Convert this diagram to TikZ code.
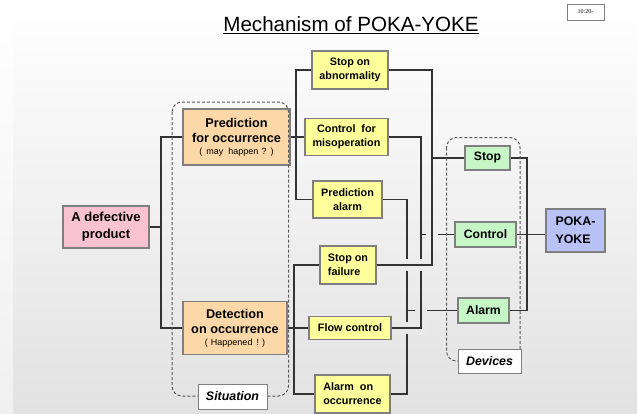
\documentclass[tikz,border=0pt]{standalone}
\usepackage{fontspec}
\setmainfont{Liberation Sans}
\newfontfamily\serifx{Liberation Serif}
\definecolor{yfill}{HTML}{FFFF9C}
\definecolor{ofill}{HTML}{FCD8A8}
\definecolor{pfill}{HTML}{F8C2D2}
\definecolor{gfill}{HTML}{C6F5C6}
\definecolor{bfill}{HTML}{B8C2F6}
\definecolor{bord}{HTML}{7F7F7F}
\definecolor{conn}{HTML}{333333}
\definecolor{dashc}{HTML}{5A5A5A}
\definecolor{gapa}{HTML}{EEEEEE}
\definecolor{gapb}{HTML}{ECECEC}
\definecolor{gapc}{HTML}{E9E9E9}
\definecolor{bgbot}{HTML}{E2E2E2}
\definecolor{stripbot}{HTML}{F0F0F0}
\begin{document}
\begin{tikzpicture}[x=1pt,y=-1pt,
  basebox/.style={draw=bord, line width=1.3pt, inner sep=0pt, align=center, text=black},
  ybox/.style={basebox, fill=yfill, font=\bfseries\fontsize{10.8}{14}\selectfont},
  obox/.style={basebox, fill=ofill, font=\bfseries\fontsize{12.7}{15}\selectfont},
  pbox/.style={basebox, fill=pfill, font=\bfseries\fontsize{13}{17}\selectfont},
  gbox/.style={basebox, fill=gfill, font=\bfseries\fontsize{12.2}{14}\selectfont},
  bbox/.style={basebox, fill=bfill, font=\bfseries\fontsize{12.4}{18}\selectfont, align=left},
  lbl/.style={basebox, fill=white, line width=1pt, font=\bfseries\itshape\fontsize{12.4}{14}\selectfont},
  wire/.style={draw=conn, line width=1.8pt},
  gapband/.style={draw=#1, line width=12pt},
  grp/.style={draw=dashc, line width=1pt, dash pattern=on 3pt off 2pt, rounded corners=10pt},
  sz/.style 2 args={minimum width=#1pt, minimum height=#2pt}
]
\useasboundingbox (0,0) rectangle (637,413);
\shade[top color=white, bottom color=bgbot] (0,0) rectangle (637,413);
\shade[top color=white, bottom color=stripbot] (0,0) rectangle (13,413);

% title
\node[inner sep=0pt, font=\fontsize{20.6}{24}\selectfont] (title) at (351,24) {Mechanism of POKA-YOKE};
\draw[line width=1.3pt, black] ([yshift=-2.2pt]title.base west) -- ([yshift=-2.2pt]title.base east);
\node[draw=bord, line width=0.6pt, fill=white, sz={37}{16}, inner sep=0pt, font=\serifx\fontsize{6}{7}\selectfont] (tm) at (585.5,12) {10:20-};

% nodes
\node[pbox, sz={86}{42}] (pink) at (106,227) {A defective\\product};
\node[obox, sz={107}{56}] (pred) at (236.5,137) {Prediction\\for occurrence\\[-3pt]{\mdseries\fontsize{9}{10}\selectfont (\hspace{4pt}may\hspace{5pt}happen\hspace{3pt}?\hspace{4pt})}};
\node[obox, sz={104}{53}] (det) at (235,328) {Detection\\on occurrence\\[-3pt]{\mdseries\fontsize{9}{10}\selectfont (\hspace{3pt}Happened\hspace{4pt}!\hspace{3pt})}};

\node[ybox, sz={76}{38}] (stopab) at (350,70) {Stop on\\abnormality};
\node[ybox, sz={83}{37}] (ctrlmis) at (346.5,137) {Control\ \ for\\misoperation};
\node[ybox, sz={69}{37}] (predal) at (347.5,199.5) {Prediction\\alarm};
\node[ybox, sz={56}{38}, align=left] (stopfail) at (348,265) {Stop on\\failure};
\node[ybox, sz={82}{23}] (flow) at (350,328) {Flow control};
\node[ybox, sz={75}{38}, align=left] (alocc) at (352.5,394) {Alarm\ \ on\\occurrence};

\node[gbox, sz={45}{24}] (stopg) at (487.5,158) {Stop};
\node[gbox, sz={61}{25}] (ctrlg) at (485.5,234.5) {Control};
\node[gbox, sz={51}{25}] (alarmg) at (483.5,310.5) {Alarm};
\node[bbox, sz={59}{43}] (poka) at (575.5,230.5) {POKA-\\YOKE};

% junctions
\coordinate (j1) at (161,227);
\coordinate (j2) at (296,137);
\coordinate (j3) at (294,328);
\coordinate (ta) at (432,158);
\coordinate (tb) at (421,234.5);
\coordinate (tc) at (407,310.5);
\coordinate (tp) at (527,234.5);

% left trees
\draw[wire] (pink.east) -- (j1);
\draw[wire] (pred.west) -| (j1) |- (det.west);
\draw[wire] (pred.east) -- (ctrlmis.west);
\draw[wire] (stopab.west) -| (j2) |- (predal.west);
\draw[wire] (det.east) -- (flow.west);
\draw[wire] (stopfail.west) -| (j3) |- (alocc.west);

% right trunks (with line hops)
\draw[wire] (predal.east) -| (tc) |- (alocc.east);
\draw[wire] (tc) -- (alarmg.west);
\begin{scope}
  \clip (400,300) rectangle (430,340);
  \draw[gapband=gapc] (ctrlmis.east) -| (tb) |- (flow.east);
\end{scope}
\draw[wire] (ctrlmis.east) -| (tb) |- (flow.east);
\draw[wire] (tb) -- (ctrlg.west);
\begin{scope}
  \clip (400,225) rectangle (440,250);
  \draw[gapband=gapa] (stopab.east) -| (ta) |- (stopfail.east);
\end{scope}
\begin{scope}
  \clip (400,250) rectangle (440,276);
  \draw[gapband=gapb] (stopab.east) -| (ta) |- (stopfail.east);
\end{scope}
\draw[wire] (stopab.east) -| (ta) |- (stopfail.east);
\draw[wire] (ta) -- (stopg.west);

% to POKA-YOKE
\draw[wire] (stopg.east) -| (tp) |- (alarmg.east);
\draw[wire] (ctrlg.east) -- (ctrlg.east -| poka.west);

% groups
\draw[grp] (172,102) rectangle (288.5,396);
\draw[grp] (446.5,137.5) rectangle (520,361);
\node[lbl, sz={69}{25}] (sit) at (232.5,396.5) {Situation};
\node[lbl, sz={63}{24}] (dev) at (489.5,361) {Devices};
\end{tikzpicture}
\end{document}
